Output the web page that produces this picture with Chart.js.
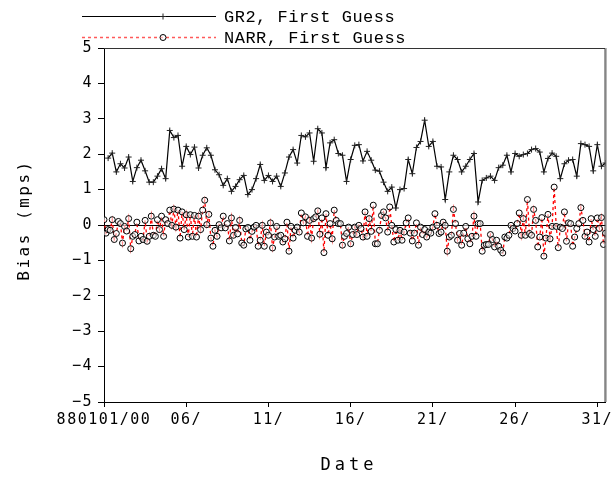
<!DOCTYPE html>
<html><head><meta charset="utf-8">
<script src="https://cdn.jsdelivr.net/npm/chart.js@4/dist/chart.umd.min.js"></script>
<style>html,body{margin:0;padding:0;background:#fff;} #wrap{width:615px;height:483px;}</style>
</head><body><div id="wrap"><canvas id="c" width="615" height="483"></canvas></div>
<script>
// ---- data ----
const seriesNames = ['GR2, First Guess', 'NARR, First Guess'];
const xTitle = 'Date';
const yTitle = 'Bias (mps)';
const xTickDays = [0, 5, 10, 15, 20, 25, 30];
const xTickLabels = ['880101/00', '06/', '11/', '16/', '21/', '26/', '31/'];
const yTickValues = [-5, -4, -3, -2, -1, 0, 1, 2, 3, 4, 5];
const gr2StartDay = 0.25, gr2StepDays = 0.25;   // 6-hourly
const narrStartDay = 0, narrStepDays = 0.125;   // 3-hourly

const gr2Bias = [
 1.89, 2.03, 1.50, 1.73, 1.61, 1.92, 1.23, 1.62, 1.83, 1.53, 1.21, 1.21, 1.38, 1.59, 1.31, 2.67, 2.47, 2.53, 1.66, 2.22,
 1.99, 2.20, 1.61, 1.97, 2.18, 1.97, 1.56, 1.42, 1.12, 1.31, 0.95, 1.09, 1.28, 1.40, 0.86, 1.00, 1.31, 1.71, 1.26, 1.40,
 1.23, 1.38, 1.09, 1.47, 1.92, 2.13, 1.75, 2.53, 2.49, 2.60, 1.80, 2.72, 2.60, 1.62, 2.32, 2.41, 2.02, 1.97, 1.23, 1.85,
 2.25, 2.27, 1.81, 2.08, 1.83, 1.55, 1.52, 1.21, 0.95, 1.07, 0.48, 1.00, 1.03, 1.85, 1.45, 2.19, 2.36, 2.96, 2.22, 2.36,
 1.66, 1.64, 0.72, 1.50, 1.97, 1.85, 1.50, 1.66, 1.85, 2.02, 0.65, 1.26, 1.33, 1.38, 1.26, 1.62, 1.69, 1.97, 1.50, 2.02,
 1.94, 1.99, 2.02, 2.13, 2.16, 2.06, 1.50, 1.88, 2.03, 1.94, 1.31, 1.73, 1.83, 1.85, 1.38, 2.30, 2.27, 2.22, 1.53, 2.27,
 1.66, 1.75
];

const narrBias = [
 0.15, -0.23, -0.13, -0.15, 0.15, -0.41, -0.24, 0.10, 0.04, -0.51,
 -0.04, -0.17, 0.18, -0.67, -0.32, -0.27, 0.08, -0.45, -0.32, -0.41,
 0.13, -0.46, -0.32, 0.25, -0.29, -0.32, 0.15, -0.13, 0.25, -0.32,
 0.15, 0.04, 0.42, -0.01, 0.45, -0.06, 0.42, -0.37, 0.37, -0.13,
 0.29, -0.34, 0.29, -0.32, 0.27, -0.34, 0.25, -0.13, 0.42, 0.70,
 0.01, 0.30, -0.37, -0.60, -0.15, -0.32, 0.01, -0.08, 0.25, -0.08,
 0.04, -0.45, 0.20, -0.29, -0.07, -0.25, 0.13, -0.51, -0.57, -0.11, -0.07,
 -0.43, -0.18, -0.06, -0.01, -0.60, -0.43, -0.01, -0.60, -0.20, -0.29,
 0.06, -0.65, -0.34, -0.04, -0.32, -0.29, -0.48, -0.39, 0.08, -0.74,
 -0.04, -0.37, -0.15, -0.06, -0.20, 0.34, 0.06, 0.23, -0.32, 0.13,
 -0.37, 0.18, 0.23, 0.40, -0.26, 0.20, -0.78, 0.32, -0.29, 0.04,
 -0.39, 0.42, 0.13, 0.04, 0.04, -0.57, -0.32, -0.24, -0.06, -0.53,
 -0.27, -0.06, -0.27, -0.01, -0.10, -0.34, 0.37, -0.32, 0.18, -0.18,
 0.56, -0.53, -0.53, -0.15, 0.27, 0.37, 0.20, -0.20, 0.51, -0.01,
 -0.48, -0.13, -0.43, -0.15, -0.43, -0.20, 0.06, 0.20, -0.23, -0.45,
 -0.23, 0.06, -0.57, -0.06, -0.27, -0.13, -0.34, -0.20, -0.23, -0.06,
 0.32, -0.01,
 -0.24, -0.20, 0.08, -0.01, -0.74, -0.34, -0.29, 0.44, 0.04, -0.43,
 -0.24, -0.57, -0.23, -0.04, -0.39, -0.53, -0.32, 0.25, -0.32, 0.04,
 0.04, -0.74, -0.57, -0.55, -0.55, -0.27, -0.41, -0.62, -0.43, -0.60,
 -0.71, -0.79, -0.34, -0.37, -0.29, -0.01, -0.10, -0.17, 0.04, 0.34,
 -0.29, 0.18, -0.29, 0.72, -0.24, -0.29, 0.44, 0.13, -0.62, -0.34,
 0.21, -0.88, -0.37, 0.30, -0.39, -0.04, 1.07, -0.04, -0.64, -0.06,
 -0.10, 0.37, -0.46, 0.06, 0.04, -0.60, -0.34, -0.10, 0.04, 0.49,
 0.13, -0.32, -0.20, -0.48, 0.18, -0.13, -0.32, 0.20, -0.10, 0.21,
 -0.55, -0.23
];

// ---- build chart ----
const gr2Points = gr2Bias.map((v, i) => ({ x: gr2StartDay + i * gr2StepDays, y: v }));
const narrPoints = narrBias.map((v, i) => ({ x: narrStartDay + i * narrStepDays, y: v }));

const TICK_FONT = { family: 'DejaVu Sans Mono', size: 15 };

const decorPlugin = {
  id: 'decor',
  beforeDraw(chart) {
    chart.ctx.letterSpacing = '1.5px';
  },
  afterDraw(chart) {
    const ctx = chart.ctx, a = chart.chartArea;
    ctx.save();
    // frame top/right
    ctx.strokeStyle = '#333';
    ctx.lineWidth = 1;
    ctx.beginPath();
    ctx.moveTo(a.left, a.top + 0.5);
    ctx.lineTo(a.right - 0.5, a.top + 0.5);
    ctx.lineTo(a.right - 0.5, a.bottom);
    ctx.stroke();
    ctx.strokeStyle = '#777';
    ctx.beginPath();
    ctx.moveTo(a.right + 0.5, a.top);
    ctx.lineTo(a.right + 0.5, a.bottom);
    ctx.stroke();

    // legend
    const rows = [16, 37];
    chart.data.datasets.forEach((ds, i) => {
      const y = rows[i];
      ctx.save();
      ctx.strokeStyle = ds.legendLineColor || ds.borderColor;
      ctx.lineWidth = ds.legendLineWidth || ds.borderWidth;
      ctx.setLineDash(ds.borderDash || []);
      ctx.beginPath();
      ctx.moveTo(82, y + 0.5);
      ctx.lineTo(216, y + 0.5);
      ctx.stroke();
      ctx.setLineDash([]);
      ctx.strokeStyle = ds.pointBorderColor;
      ctx.fillStyle = ds.pointBackgroundColor;
      ctx.lineWidth = ds.pointBorderWidth;
      Chart.helpers.drawPoint(ctx, { pointStyle: ds.pointStyle, radius: ds.pointRadius, borderWidth: ds.pointBorderWidth, rotation: 0 }, 163, y + 0.5);
      ctx.restore();
      ctx.fillStyle = '#000';
      ctx.font = '17px "Liberation Mono"';
      ctx.letterSpacing = '0.5px';
      ctx.textAlign = 'left';
      ctx.textBaseline = 'middle';
      ctx.fillText(ds.label, 224, y + 1);
    });

    // axis titles
    ctx.fillStyle = '#000';
    ctx.font = '17px "DejaVu Sans Mono"';
    ctx.letterSpacing = '4px';
    ctx.textAlign = 'center';
    ctx.textBaseline = 'middle';
    ctx.fillText(xTitle, 349, 466);
    ctx.save();
    ctx.translate(25, 220);
    ctx.rotate(-Math.PI / 2);
    ctx.font = '16px "DejaVu Sans Mono"';
    ctx.letterSpacing = '2.5px';
    ctx.fillText(yTitle, 0, 0);
    ctx.restore();
    ctx.restore();
  }
};

new Chart(document.getElementById('c'), {
  type: 'line',
  data: {
    datasets: [
      {
        label: seriesNames[0],
        data: gr2Points,
        borderColor: '#000',
        borderWidth: 1.2,
        pointStyle: 'cross',
        pointRadius: 3,
        pointBorderWidth: 1,
        pointBorderColor: '#222',
        pointBackgroundColor: '#222',
        tension: 0,
        order: 2
      },
      {
        label: seriesNames[1],
        data: narrPoints,
        borderColor: '#ff0000',
        legendLineColor: '#ff5a5a',
        legendLineWidth: 1.6,
        borderWidth: 1.3,
        borderDash: [3, 3],
        pointStyle: 'circle',
        pointRadius: 3,
        pointBorderWidth: 1,
        pointBorderColor: '#000',
        pointBackgroundColor: 'rgba(255,255,255,0.55)',
        tension: 0,
        order: 1
      }
    ]
  },
  options: {
    responsive: false,
    animation: false,
    devicePixelRatio: 1,
    layout: { padding: { top: 48, right: 8, left: 0, bottom: 0 } },
    plugins: { legend: { display: false }, tooltip: { enabled: false }, title: { display: false } },
    scales: {
      x: {
        type: 'linear',
        min: 0,
        max: 30.5,
        afterBuildTicks(scale) { scale.ticks = xTickDays.map(v => ({ value: v })); },
        afterFit(scale) { scale.height = 81; },
        ticks: {
          autoSkip: false,
          maxRotation: 0,
          color: '#000',
          font: TICK_FONT,
          padding: 4,
          callback(value) { const k = xTickDays.indexOf(value); return k >= 0 ? xTickLabels[k] : ''; }
        },
        grid: { display: true, drawOnChartArea: false, drawTicks: true, tickLength: 5, tickColor: '#000', color: '#000' },
        border: { display: true, color: '#000', width: 1 }
      },
      y: {
        type: 'linear',
        min: -5,
        max: 5,
        afterBuildTicks(scale) { scale.ticks = yTickValues.map(v => ({ value: v })); },
        afterFit(scale) { scale.width = 104; },
        ticks: {
          color: '#000',
          font: TICK_FONT,
          padding: 5,
          callback(value) { return value < 0 ? '\u2212' + Math.abs(value) : String(value); }
        },
        grid: {
          display: true,
          drawOnChartArea: true,
          drawTicks: true,
          tickLength: 6,
          tickColor: '#000',
          color: ctx => (ctx.tick && ctx.tick.value === 0) ? '#000' : 'rgba(0,0,0,0)',
          lineWidth: 1
        },
        border: { display: true, color: '#000', width: 1 }
      }
    }
  },
  plugins: [decorPlugin]
});
</script>
</body></html>
